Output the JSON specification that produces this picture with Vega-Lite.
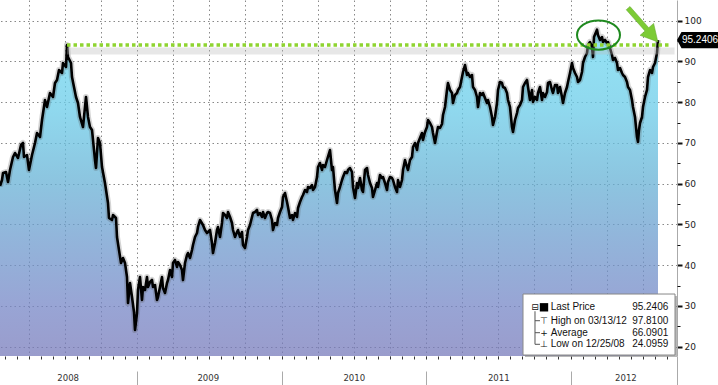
{
"$schema": "https://vega.github.io/schema/vega-lite/v6.json",
"width": 677, "height": 356,
"autosize": {"type": "none"},
"padding": {"left": 0, "top": 0, "right": 41, "bottom": 29},
"background": "white",
"config": {"view": {"stroke": null}, "axis": {"labelFont": "DejaVu Sans", "title": null}},
"datasets": {
"px": [
{"t":2008.0519,"p":59.44},{"t":2008.0657,"p":60.91},{"t":2008.0727,"p":62.62},{"t":2008.0934,"p":62.87},{"t":2008.1073,"p":60.42},{"t":2008.1211,"p":63.36},{"t":2008.1419,"p":66.55},{"t":2008.1557,"p":67.53},{"t":2008.1765,"p":66.31},{"t":2008.1972,"p":69.50},{"t":2008.2111,"p":69.99},{"t":2008.2180,"p":66.55},{"t":2008.2388,"p":67.04},{"t":2008.2526,"p":63.36},{"t":2008.2734,"p":67.04},{"t":2008.2941,"p":69.99},{"t":2008.3080,"p":72.44},{"t":2008.3287,"p":71.46},{"t":2008.3426,"p":75.63},{"t":2008.3633,"p":80.54},{"t":2008.3772,"p":78.82},{"t":2008.3979,"p":82.26},{"t":2008.4187,"p":81.28},{"t":2008.4325,"p":84.71},{"t":2008.4464,"p":85.45},{"t":2008.4602,"p":87.90},{"t":2008.4810,"p":87.17},{"t":2008.4879,"p":89.62},{"t":2008.5087,"p":88.64},{"t":2008.5156,"p":94.04},{"t":2008.5225,"p":91.09},{"t":2008.5433,"p":89.62},{"t":2008.5502,"p":86.18},{"t":2008.5640,"p":83.73},{"t":2008.5779,"p":81.28},{"t":2008.5917,"p":79.80},{"t":2008.6055,"p":76.37},{"t":2008.6263,"p":73.91},{"t":2008.6471,"p":81.28},{"t":2008.6609,"p":76.37},{"t":2008.6747,"p":73.91},{"t":2008.6886,"p":73.18},{"t":2008.7093,"p":65.82},{"t":2008.7163,"p":63.85},{"t":2008.7301,"p":71.21},{"t":2008.7439,"p":69.99},{"t":2008.7578,"p":64.10},{"t":2008.7785,"p":60.17},{"t":2008.7993,"p":55.26},{"t":2008.8062,"p":51.58},{"t":2008.8270,"p":51.09},{"t":2008.8339,"p":52.32},{"t":2008.8547,"p":51.58},{"t":2008.8616,"p":46.92},{"t":2008.8754,"p":43.73},{"t":2008.8893,"p":40.54},{"t":2008.9031,"p":41.77},{"t":2008.9170,"p":40.54},{"t":2008.9308,"p":37.10},{"t":2008.9377,"p":30.72},{"t":2008.9516,"p":35.63},{"t":2008.9654,"p":32.20},{"t":2008.9792,"p":28.52},{"t":2008.9862,"p":24.10},{"t":2009.0000,"p":28.27},{"t":2009.0069,"p":33.91},{"t":2009.0208,"p":37.10},{"t":2009.0346,"p":31.46},{"t":2009.0415,"p":34.65},{"t":2009.0554,"p":33.91},{"t":2009.0692,"p":37.10},{"t":2009.0761,"p":34.65},{"t":2009.0900,"p":35.88},{"t":2009.1038,"p":36.37},{"t":2009.1107,"p":34.65},{"t":2009.1246,"p":35.14},{"t":2009.1384,"p":31.46},{"t":2009.1453,"p":32.20},{"t":2009.1592,"p":34.65},{"t":2009.1730,"p":37.10},{"t":2009.1799,"p":34.40},{"t":2009.1938,"p":33.18},{"t":2009.2076,"p":35.63},{"t":2009.2145,"p":36.37},{"t":2009.2284,"p":38.82},{"t":2009.2422,"p":37.10},{"t":2009.2491,"p":40.54},{"t":2009.2630,"p":41.28},{"t":2009.2768,"p":39.56},{"t":2009.2837,"p":40.79},{"t":2009.2976,"p":40.05},{"t":2009.3114,"p":38.82},{"t":2009.3183,"p":36.37},{"t":2009.3322,"p":40.54},{"t":2009.3460,"p":42.50},{"t":2009.3529,"p":42.99},{"t":2009.3668,"p":41.77},{"t":2009.3806,"p":43.73},{"t":2009.3875,"p":44.96},{"t":2009.4014,"p":46.92},{"t":2009.4152,"p":47.90},{"t":2009.4221,"p":49.38},{"t":2009.4360,"p":51.09},{"t":2009.4567,"p":49.87},{"t":2009.4706,"p":48.64},{"t":2009.4844,"p":47.90},{"t":2009.5052,"p":48.64},{"t":2009.5190,"p":45.45},{"t":2009.5260,"p":42.99},{"t":2009.5398,"p":45.45},{"t":2009.5536,"p":48.64},{"t":2009.5606,"p":49.38},{"t":2009.5744,"p":46.92},{"t":2009.5882,"p":50.36},{"t":2009.5952,"p":52.81},{"t":2009.6090,"p":52.32},{"t":2009.6228,"p":51.58},{"t":2009.6298,"p":53.06},{"t":2009.6436,"p":51.83},{"t":2009.6574,"p":50.36},{"t":2009.6644,"p":48.64},{"t":2009.6782,"p":46.92},{"t":2009.6920,"p":48.15},{"t":2009.6990,"p":48.64},{"t":2009.7128,"p":46.92},{"t":2009.7266,"p":48.15},{"t":2009.7336,"p":44.96},{"t":2009.7474,"p":44.22},{"t":2009.7612,"p":46.92},{"t":2009.7682,"p":48.64},{"t":2009.7820,"p":49.87},{"t":2009.7958,"p":51.83},{"t":2009.8028,"p":52.81},{"t":2009.8166,"p":53.06},{"t":2009.8304,"p":53.55},{"t":2009.8374,"p":52.32},{"t":2009.8512,"p":52.81},{"t":2009.8650,"p":51.83},{"t":2009.8720,"p":53.06},{"t":2009.8858,"p":51.58},{"t":2009.8997,"p":52.81},{"t":2009.9066,"p":53.06},{"t":2009.9204,"p":52.81},{"t":2009.9343,"p":51.09},{"t":2009.9412,"p":48.64},{"t":2009.9550,"p":50.36},{"t":2009.9689,"p":49.87},{"t":2009.9758,"p":51.58},{"t":2009.9896,"p":53.06},{"t":2010.0035,"p":54.28},{"t":2010.0104,"p":56.74},{"t":2010.0242,"p":57.72},{"t":2010.0381,"p":55.51},{"t":2010.0450,"p":54.28},{"t":2010.0588,"p":51.58},{"t":2010.0727,"p":52.32},{"t":2010.0796,"p":51.09},{"t":2010.0934,"p":52.81},{"t":2010.1073,"p":51.83},{"t":2010.1142,"p":54.04},{"t":2010.1280,"p":55.51},{"t":2010.1419,"p":56.74},{"t":2010.1488,"p":57.23},{"t":2010.1626,"p":58.45},{"t":2010.1765,"p":57.96},{"t":2010.1834,"p":59.19},{"t":2010.1972,"p":58.94},{"t":2010.2111,"p":59.68},{"t":2010.2180,"p":58.45},{"t":2010.2318,"p":59.19},{"t":2010.2457,"p":61.64},{"t":2010.2526,"p":64.10},{"t":2010.2664,"p":65.08},{"t":2010.2803,"p":63.36},{"t":2010.2872,"p":64.59},{"t":2010.3010,"p":64.10},{"t":2010.3149,"p":65.82},{"t":2010.3356,"p":68.27},{"t":2010.3494,"p":63.36},{"t":2010.3564,"p":64.10},{"t":2010.3702,"p":58.45},{"t":2010.3841,"p":55.26},{"t":2010.3910,"p":57.72},{"t":2010.4048,"p":59.19},{"t":2010.4187,"p":60.91},{"t":2010.4256,"p":61.64},{"t":2010.4394,"p":62.87},{"t":2010.4533,"p":62.62},{"t":2010.4602,"p":63.36},{"t":2010.4740,"p":63.85},{"t":2010.4879,"p":62.87},{"t":2010.4948,"p":59.19},{"t":2010.5087,"p":56.49},{"t":2010.5225,"p":60.17},{"t":2010.5294,"p":58.94},{"t":2010.5433,"p":61.40},{"t":2010.5571,"p":58.45},{"t":2010.5640,"p":57.96},{"t":2010.5779,"p":63.36},{"t":2010.5917,"p":63.85},{"t":2010.5986,"p":62.13},{"t":2010.6125,"p":60.17},{"t":2010.6263,"p":58.94},{"t":2010.6332,"p":56.74},{"t":2010.6471,"p":58.45},{"t":2010.6609,"p":60.17},{"t":2010.6678,"p":59.19},{"t":2010.6817,"p":62.13},{"t":2010.6955,"p":61.40},{"t":2010.7024,"p":61.64},{"t":2010.7163,"p":60.17},{"t":2010.7301,"p":58.45},{"t":2010.7370,"p":60.42},{"t":2010.7509,"p":61.64},{"t":2010.7647,"p":61.40},{"t":2010.7716,"p":60.91},{"t":2010.7855,"p":59.19},{"t":2010.7993,"p":57.96},{"t":2010.8062,"p":60.91},{"t":2010.8201,"p":59.19},{"t":2010.8339,"p":60.91},{"t":2010.8408,"p":63.36},{"t":2010.8547,"p":65.82},{"t":2010.8685,"p":64.10},{"t":2010.8754,"p":63.36},{"t":2010.8893,"p":65.82},{"t":2010.9031,"p":66.55},{"t":2010.9100,"p":69.01},{"t":2010.9239,"p":69.99},{"t":2010.9377,"p":68.27},{"t":2010.9446,"p":69.99},{"t":2010.9585,"p":71.21},{"t":2010.9723,"p":72.44},{"t":2010.9792,"p":70.72},{"t":2010.9931,"p":72.69},{"t":2011.0069,"p":73.91},{"t":2011.0138,"p":75.63},{"t":2011.0277,"p":74.89},{"t":2011.0415,"p":73.91},{"t":2011.0484,"p":72.44},{"t":2011.0623,"p":69.99},{"t":2011.0761,"p":72.69},{"t":2011.0830,"p":73.91},{"t":2011.0969,"p":73.67},{"t":2011.1107,"p":74.65},{"t":2011.1176,"p":76.86},{"t":2011.1315,"p":78.82},{"t":2011.1453,"p":83.00},{"t":2011.1522,"p":84.71},{"t":2011.1661,"p":83.00},{"t":2011.1799,"p":82.26},{"t":2011.1869,"p":79.80},{"t":2011.2007,"p":81.77},{"t":2011.2145,"p":82.26},{"t":2011.2215,"p":83.00},{"t":2011.2353,"p":83.73},{"t":2011.2491,"p":86.18},{"t":2011.2561,"p":87.41},{"t":2011.2699,"p":89.13},{"t":2011.2837,"p":86.67},{"t":2011.2907,"p":87.17},{"t":2011.3045,"p":86.18},{"t":2011.3183,"p":86.67},{"t":2011.3253,"p":83.73},{"t":2011.3391,"p":83.00},{"t":2011.3529,"p":81.28},{"t":2011.3599,"p":78.82},{"t":2011.3737,"p":82.26},{"t":2011.3875,"p":81.77},{"t":2011.3945,"p":82.26},{"t":2011.4083,"p":81.03},{"t":2011.4221,"p":79.80},{"t":2011.4291,"p":80.54},{"t":2011.4429,"p":78.82},{"t":2011.4567,"p":76.37},{"t":2011.4637,"p":74.40},{"t":2011.4775,"p":76.37},{"t":2011.4913,"p":79.80},{"t":2011.4983,"p":83.00},{"t":2011.5121,"p":84.96},{"t":2011.5260,"p":84.71},{"t":2011.5329,"p":83.73},{"t":2011.5467,"p":83.49},{"t":2011.5606,"p":82.26},{"t":2011.5675,"p":80.54},{"t":2011.5813,"p":78.82},{"t":2011.5952,"p":73.91},{"t":2011.6021,"p":72.69},{"t":2011.6159,"p":75.63},{"t":2011.6298,"p":77.35},{"t":2011.6367,"p":78.58},{"t":2011.6505,"p":79.31},{"t":2011.6644,"p":80.54},{"t":2011.6713,"p":83.73},{"t":2011.6851,"p":84.71},{"t":2011.6990,"p":85.45},{"t":2011.7059,"p":83.73},{"t":2011.7197,"p":80.54},{"t":2011.7336,"p":83.00},{"t":2011.7405,"p":80.05},{"t":2011.7543,"p":81.28},{"t":2011.7682,"p":80.54},{"t":2011.7751,"p":82.26},{"t":2011.7889,"p":83.73},{"t":2011.8028,"p":80.54},{"t":2011.8097,"p":82.26},{"t":2011.8235,"p":81.28},{"t":2011.8374,"p":82.50},{"t":2011.8443,"p":84.71},{"t":2011.8581,"p":84.96},{"t":2011.8720,"p":83.00},{"t":2011.8789,"p":82.26},{"t":2011.8927,"p":84.22},{"t":2011.9066,"p":84.22},{"t":2011.9135,"p":82.26},{"t":2011.9273,"p":83.73},{"t":2011.9412,"p":81.28},{"t":2011.9481,"p":79.80},{"t":2011.9619,"p":82.26},{"t":2011.9758,"p":83.73},{"t":2011.9827,"p":84.96},{"t":2011.9965,"p":87.17},{"t":2012.0104,"p":89.62},{"t":2012.0173,"p":88.39},{"t":2012.0311,"p":87.17},{"t":2012.0450,"p":86.18},{"t":2012.0519,"p":84.96},{"t":2012.0657,"p":85.45},{"t":2012.0796,"p":87.41},{"t":2012.0865,"p":89.62},{"t":2012.1003,"p":91.09},{"t":2012.1142,"p":92.07},{"t":2012.1211,"p":94.04},{"t":2012.1349,"p":94.77},{"t":2012.1488,"p":93.55},{"t":2012.1557,"p":91.09},{"t":2012.1626,"p":96.00},{"t":2012.1834,"p":97.81},{"t":2012.1903,"p":96.49},{"t":2012.2042,"p":95.27},{"t":2012.2180,"p":96.00},{"t":2012.2249,"p":94.77},{"t":2012.2388,"p":95.27},{"t":2012.2526,"p":94.53},{"t":2012.2595,"p":94.77},{"t":2012.2734,"p":93.30},{"t":2012.2872,"p":91.58},{"t":2012.2941,"p":90.36},{"t":2012.3080,"p":90.85},{"t":2012.3218,"p":89.62},{"t":2012.3287,"p":87.90},{"t":2012.3426,"p":88.39},{"t":2012.3564,"p":87.17},{"t":2012.3633,"p":86.67},{"t":2012.3772,"p":86.18},{"t":2012.3910,"p":84.96},{"t":2012.3979,"p":83.73},{"t":2012.4118,"p":83.00},{"t":2012.4256,"p":80.54},{"t":2012.4325,"p":78.82},{"t":2012.4464,"p":76.37},{"t":2012.4602,"p":71.46},{"t":2012.4671,"p":70.23},{"t":2012.4740,"p":73.18},{"t":2012.4810,"p":74.89},{"t":2012.4948,"p":76.37},{"t":2012.5017,"p":78.82},{"t":2012.5156,"p":81.28},{"t":2012.5294,"p":83.00},{"t":2012.5363,"p":86.18},{"t":2012.5502,"p":87.90},{"t":2012.5640,"p":87.17},{"t":2012.5709,"p":88.64},{"t":2012.5848,"p":89.62},{"t":2012.5986,"p":92.07},{"t":2012.6055,"p":95.24}
],
"legRows": [
{"label":"Last Price","val":"95.2406","y":29.67},
{"label":"High on 03/13/12","val":"97.8100","y":26.38},
{"label":"Average","val":"66.0901","y":23.44},
{"label":"Low on 12/25/08","val":"24.0959","y":20.59}
],
"legIcons": [
{"x":2011.7543,"y":29.67,"s":"⊟"},
{"x":2011.8166,"y":26.38,"s":"⊤"},
{"x":2011.8166,"y":23.44,"s":"+"},
{"x":2011.8166,"y":20.59,"s":"⊥"}
],
"tree": [
{"x":2011.7543,"x2":2011.7543,"y":28.7,"y2":20.59},
{"x":2011.7543,"x2":2011.7889,"y":26.38,"y2":26.38},
{"x":2011.7543,"x2":2011.7889,"y":23.44,"y2":23.44},
{"x":2011.7543,"x2":2011.7889,"y":20.59,"y2":20.59}
]
},
"layer": [
{
"data": {"name": "px"},
"mark": {"type": "area", "opacity": 0.75, "color": {"gradient": "linear", "x1": 0, "y1": 0, "x2": 0, "y2": 1, "stops": [
{"offset": 0, "color": "#70daf2"},
{"offset": 0.25, "color": "#6acbe8"},
{"offset": 0.45, "color": "#66b3d6"},
{"offset": 0.65, "color": "#6e9bce"},
{"offset": 0.85, "color": "#7686c6"},
{"offset": 1, "color": "#787bbb"}]}},
"encoding": {
"x": {"field": "t", "type": "quantitative", "scale": {"domain": [2008.0519, 2012.737], "nice": false, "zero": false},
 "axis": {"orient": "bottom", "values": [2008.25,2008.5,2008.75,2009,2009.25,2009.5,2009.75,2010,2010.25,2010.5,2010.75,2011,2011.25,2011.5,2011.75,2012,2012.25,2012.5], "grid": true, "gridColor": "#888", "gridDash": [1.5, 3], "gridWidth": 1, "ticks": false, "labels": false, "domain": false}},
"y": {"field": "p", "type": "quantitative", "scale": {"domain": [17.72, 105.08], "nice": false, "zero": false},
 "axis": {"orient": "right", "values": [20,30,40,50,60,70,80,90,100], "format": "d", "grid": true, "gridColor": "#888", "gridDash": [1.5, 3], "gridWidth": 1, "tickSize": 5, "tickWidth": 2, "tickColor": "#111", "domainColor": "#aaa", "labelFontSize": 9, "labelColor": "#222", "labelPadding": 2}},
"y2": {"datum": 17.72}
}
},
{
"data": {"name": "px"},
"mark": {"type": "line", "color": "#555", "strokeWidth": 6, "opacity": 0.25, "strokeJoin": "round"},
"encoding": {
"x": {"field": "t", "type": "quantitative", "scale": {"domain": [2008.0519, 2012.737], "nice": false, "zero": false},
 "axis": {"orient": "bottom", "values": [2008.0833,2008.1667,2008.25,2008.3333,2008.4167,2008.5,2008.5833,2008.6667,2008.75,2008.8333,2008.9167,2009,2009.0833,2009.1667,2009.25,2009.3333,2009.4167,2009.5,2009.5833,2009.6667,2009.75,2009.8333,2009.9167,2010,2010.0833,2010.1667,2010.25,2010.3333,2010.4167,2010.5,2010.5833,2010.6667,2010.75,2010.8333,2010.9167,2011,2011.0833,2011.1667,2011.25,2011.3333,2011.4167,2011.5,2011.5833,2011.6667,2011.75,2011.8333,2011.9167,2012,2012.0833,2012.1667,2012.25,2012.3333,2012.4167,2012.5,2012.5833,2012.6667], "tickSize": 3, "tickColor": "#333", "labels": false, "grid": false, "domain": false}},
"y": {"field": "p", "type": "quantitative", "scale": {"domain": [17.72, 105.08], "nice": false, "zero": false},
 "axis": {"orient": "right", "values": [25,35,45,55,65,75,85,95], "tickSize": 3, "tickColor": "#111", "labels": false, "grid": false, "domain": false}}
}
},
{
"data": {"name": "px"},
"mark": {"type": "line", "color": "#000", "strokeWidth": 2.6, "strokeJoin": "round"},
"encoding": {
"x": {"field": "t", "type": "quantitative", "scale": {"domain": [2008.0519, 2012.737], "nice": false, "zero": false},
 "axis": {"orient": "bottom", "values": [2009, 2010, 2011, 2012], "offset": 15, "tickSize": 14, "tickColor": "#aaa", "labels": false, "grid": false, "domain": false}},
"y": {"field": "p", "type": "quantitative", "scale": {"domain": [17.72, 105.08], "nice": false, "zero": false}, "axis": null}
}
},
{
"data": {"values": [{"a": 2008.5156, "b": 2012.72, "v": 92.56}]},
"mark": {"type": "rule", "color": "#bbb", "strokeWidth": 7, "opacity": 0.35},
"encoding": {
"x": {"field": "a", "type": "quantitative", "scale": {"domain": [2008.0519, 2012.737], "nice": false, "zero": false},
 "axis": {"orient": "bottom", "values": [2008.52, 2009.49, 2010.5, 2011.5, 2012.38], "labelExpr": "floor(datum.value)", "ticks": false, "tickSize": 0, "domain": false, "grid": false, "labelPadding": 21, "labelBaseline": "middle", "labelFont": "DejaVu Sans Condensed, Liberation Sans Narrow, sans-serif", "labelFontSize": 9.5, "labelColor": "#333", "labelFlush": false, "labelOverlap": false}},
"x2": {"field": "b"},
"y": {"field": "v", "type": "quantitative", "scale": {"domain": [17.72, 105.08], "nice": false, "zero": false}, "axis": null}
}
},
{
"data": {"values": [{"a": 2008.5156, "b": 2012.6886, "v": 94.04}]},
"mark": {"type": "rule", "color": "#8fd431", "strokeWidth": 3.5, "strokeDash": [3.5, 3]},
"encoding": {
"x": {"field": "a", "type": "quantitative", "scale": {"domain": [2008.0519, 2012.737], "nice": false, "zero": false},
 "axis": {"orient": "bottom", "values": [2012.7369], "tickSize": 29, "tickColor": "#aaa", "labels": false, "grid": false, "domain": false}},
"x2": {"field": "b"},
"y": {"field": "v", "type": "quantitative", "scale": {"domain": [17.72, 105.08], "nice": false, "zero": false}, "axis": null}
}
},
{
"data": {"values": [{"t": 2012.1938, "p": 96.49}]},
"mark": {"type": "point", "shape": "M -1 0 A 1 0.68 0 1 1 1 0 A 1 0.68 0 1 1 -1 0 Z", "size": 1849, "filled": false, "color": "#1f8a1f", "strokeWidth": 2, "opacity": 1},
"encoding": {
"x": {"field": "t", "type": "quantitative", "scale": {"domain": [2008.0519, 2012.737], "nice": false, "zero": false}, "axis": null},
"y": {"field": "p", "type": "quantitative", "scale": {"domain": [17.72, 105.08], "nice": false, "zero": false}, "axis": null}
}
},
{
"data": {"values": [{"t": 2012.5017, "p": 98.945}]},
"mark": {"type": "point", "shape": "M -1 -0.11 L 0.26 -0.11 L 0.26 -0.4 L 1 0 L 0.26 0.4 L 0.26 0.11 L -1 0.11 Z", "size": 2025, "angle": 48.6, "filled": true, "color": "#7ccb35", "stroke": "#62a82a", "strokeWidth": 0.5, "opacity": 1},
"encoding": {
"x": {"field": "t", "type": "quantitative", "scale": {"domain": [2008.0519, 2012.737], "nice": false, "zero": false}, "axis": null},
"y": {"field": "p", "type": "quantitative", "scale": {"domain": [17.72, 105.08], "nice": false, "zero": false}, "axis": null}
}
},
{
"data": {"values": [{"x": 2011.6851, "x2": 2012.737, "y": 32.44, "y2": 17.47}]},
"mark": {"type": "rect", "color": "#888", "opacity": 0.6},
"encoding": {
"x": {"field": "x", "type": "quantitative", "scale": {"domain": [2008.0519, 2012.737], "nice": false, "zero": false}, "axis": null},
"x2": {"field": "x2"},
"y": {"field": "y", "type": "quantitative", "scale": {"domain": [17.72, 105.08], "nice": false, "zero": false}, "axis": null},
"y2": {"field": "y2"}
}
},
{
"data": {"values": [{"x": 2011.6713, "x2": 2012.7232, "y": 32.93, "y2": 17.96}]},
"mark": {"type": "rect", "fill": "white", "stroke": "#888", "strokeWidth": 1, "opacity": 1},
"encoding": {
"x": {"field": "x", "type": "quantitative", "scale": {"domain": [2008.0519, 2012.737], "nice": false, "zero": false}, "axis": null},
"x2": {"field": "x2"},
"y": {"field": "y", "type": "quantitative", "scale": {"domain": [17.72, 105.08], "nice": false, "zero": false}, "axis": null},
"y2": {"field": "y2"}
}
},
{
"data": {"name": "tree"},
"mark": {"type": "rule", "color": "#555", "strokeWidth": 1},
"encoding": {
"x": {"field": "x", "type": "quantitative", "scale": {"domain": [2008.0519, 2012.737], "nice": false, "zero": false}, "axis": null},
"x2": {"field": "x2"},
"y": {"field": "y", "type": "quantitative", "scale": {"domain": [17.72, 105.08], "nice": false, "zero": false}, "axis": null},
"y2": {"field": "y2"}
}
},
{
"data": {"name": "legIcons"},
"mark": {"type": "text", "font": "DejaVu Sans", "fontSize": 9, "color": "#111", "align": "center", "baseline": "middle"},
"encoding": {
"x": {"field": "x", "type": "quantitative", "scale": {"domain": [2008.0519, 2012.737], "nice": false, "zero": false}, "axis": null},
"y": {"field": "y", "type": "quantitative", "scale": {"domain": [17.72, 105.08], "nice": false, "zero": false}, "axis": null},
"text": {"field": "s"}
}
},
{
"data": {"values": [{"x": 2011.8166, "y": 29.67}]},
"mark": {"type": "point", "shape": "square", "size": 70, "filled": true, "color": "#000", "opacity": 1},
"encoding": {
"x": {"field": "x", "type": "quantitative", "scale": {"domain": [2008.0519, 2012.737], "nice": false, "zero": false}, "axis": null},
"y": {"field": "y", "type": "quantitative", "scale": {"domain": [17.72, 105.08], "nice": false, "zero": false}, "axis": null}
}
},
{
"data": {"name": "legRows"},
"mark": {"type": "text", "font": "Liberation Sans", "fontSize": 10, "color": "#111", "align": "left", "baseline": "middle"},
"encoding": {
"x": {"datum": 2011.863, "type": "quantitative", "scale": {"domain": [2008.0519, 2012.737], "nice": false, "zero": false}, "axis": null},
"y": {"field": "y", "type": "quantitative", "scale": {"domain": [17.72, 105.08], "nice": false, "zero": false}, "axis": null},
"text": {"field": "label"}
}
},
{
"data": {"name": "legRows"},
"mark": {"type": "text", "font": "Liberation Sans", "fontSize": 10, "color": "#111", "align": "right", "baseline": "middle"},
"encoding": {
"x": {"datum": 2012.6768, "type": "quantitative", "scale": {"domain": [2008.0519, 2012.737], "nice": false, "zero": false}, "axis": null},
"y": {"field": "y", "type": "quantitative", "scale": {"domain": [17.72, 105.08], "nice": false, "zero": false}, "axis": null},
"text": {"field": "val"}
}
},
{
"data": {"values": [{"x": 2012.8789, "y": 95.2406}]},
"mark": {"type": "point", "shape": "M -1 0 L -0.78 -0.4 L 1 -0.4 L 1 0.4 L -0.78 0.4 Z", "size": 1681, "filled": true, "color": "#000", "strokeWidth": 0, "opacity": 1},
"encoding": {
"x": {"field": "x", "type": "quantitative", "scale": {"domain": [2008.0519, 2012.737], "nice": false, "zero": false}, "axis": null},
"y": {"field": "y", "type": "quantitative", "scale": {"domain": [17.72, 105.08], "nice": false, "zero": false}, "axis": null}
}
},
{
"data": {"values": [{"x": 2012.8962, "y": 95.2406, "s": "95.2406"}]},
"mark": {"type": "text", "font": "Liberation Sans", "fontSize": 10, "color": "#fff", "align": "center", "baseline": "middle"},
"encoding": {
"x": {"field": "x", "type": "quantitative", "scale": {"domain": [2008.0519, 2012.737], "nice": false, "zero": false}, "axis": null},
"y": {"field": "y", "type": "quantitative", "scale": {"domain": [17.72, 105.08], "nice": false, "zero": false}, "axis": null},
"text": {"field": "s"}
}
}
],
"resolve": {"axis": {"x": "independent", "y": "independent"}}
}
